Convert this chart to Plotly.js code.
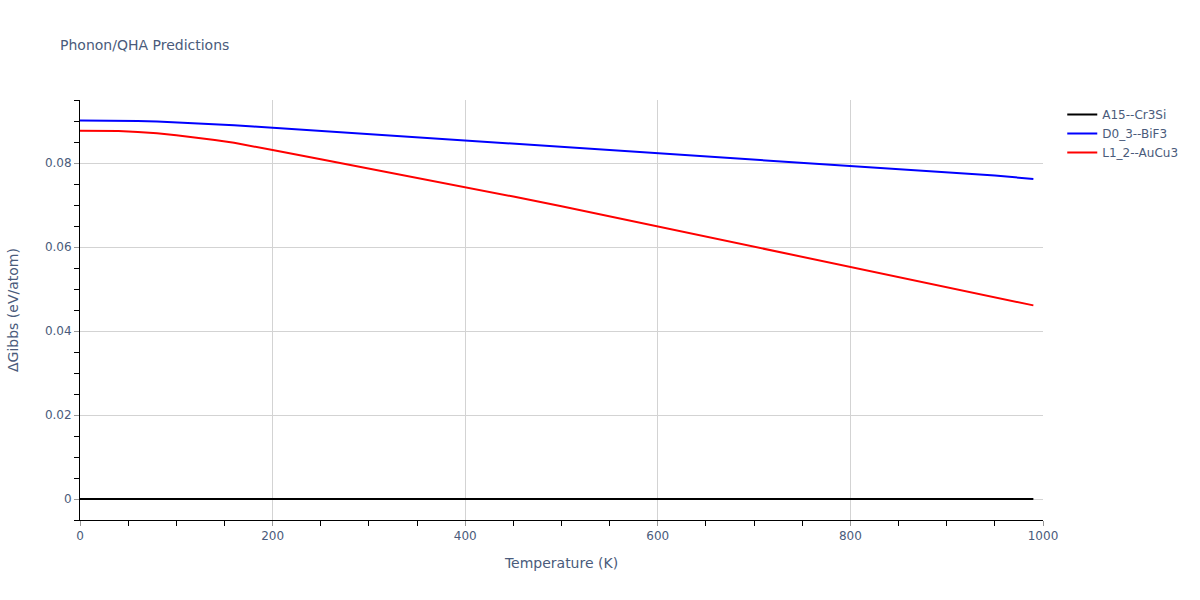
<!DOCTYPE html>
<html>
<head>
<meta charset="utf-8">
<script src="https://cdn.plot.ly/plotly-3.0.1.min.js"></script>
<style>html,body{margin:0;padding:0;background:#fff;}#chart{width:1200px;height:600px;}</style>
</head>
<body>
<div id="chart"></div>
<script>
const temps = [0, 20, 40, 60, 80, 100, 120, 140, 160, 180, 200, 250, 300, 350, 400, 450, 500, 550, 600, 650, 700, 750, 800, 850, 900, 950, 990];
const a15 = [0, 0, 0, 0, 0, 0, 0, 0, 0, 0, 0, 0, 0, 0, 0, 0, 0, 0, 0, 0, 0, 0, 0, 0, 0, 0, 0];
const d03 = [0.0901, 0.0901, 0.0901, 0.0900, 0.0899, 0.0897, 0.0895, 0.0893, 0.0890, 0.0887, 0.0884, 0.0876, 0.0868, 0.0861, 0.0854, 0.0846, 0.0838, 0.0831, 0.0824, 0.0816, 0.0808, 0.0801, 0.0794, 0.0786, 0.0778, 0.0770, 0.0762];
const l12 = [0.0877, 0.0877, 0.0876, 0.0874, 0.0871, 0.0866, 0.0861, 0.0855, 0.0848, 0.0840, 0.0831, 0.0809, 0.0787, 0.0765, 0.0742, 0.0720, 0.0697, 0.0673, 0.0649, 0.0626, 0.0601, 0.0577, 0.0554, 0.0530, 0.0505, 0.0481, 0.0461];
const names = ["A15--Cr3Si", "D0_3--BiF3", "L1_2--AuCu3"];
const colors = ["black", "blue", "red"];
const series = [a15, d03, l12];

const traces = series.map((s, i) => ({
  x: temps, y: s, type: "scatter", mode: "lines", name: names[i],
  line: {color: colors[i], width: 2}
}));

const layout = {
  width: 1200, height: 600,
  margin: {l: 80, r: 157, t: 100, b: 80},
  font: {family: "Verdana, 'DejaVu Sans', sans-serif", size: 12, color: "#4a5b7b"},
  title: {text: "Phonon/QHA Predictions", x: 0.05, font: {size: 14}},
  paper_bgcolor: "white", plot_bgcolor: "white",
  xaxis: {
    title: {text: "Temperature (K)", font: {size: 14}, standoff: 15},
    range: [0, 1000], dtick: 200,
    showline: true, linecolor: "black", linewidth: 1,
    ticks: "outside", ticklen: 5, tickcolor: "#999",
    gridcolor: "lightgrey", zeroline: false,
    minor: {dtick: 50, ticks: "outside", ticklen: 5, tickcolor: "black", showgrid: false}
  },
  yaxis: {
    title: {text: "ΔGibbs (eV/atom)", font: {size: 14}, standoff: 22},
    range: [-0.005, 0.095], dtick: 0.02,
    showline: true, linecolor: "black", linewidth: 1,
    ticks: "outside", ticklen: 5, tickcolor: "#999",
    gridcolor: "lightgrey", zeroline: true, zerolinecolor: "lightgrey", zerolinewidth: 1,
    minor: {dtick: 0.005, ticks: "outside", ticklen: 5, tickcolor: "black", showgrid: false}
  },
  legend: {x: 1.02, y: 1, xanchor: "left", yanchor: "top"},
  showlegend: true
};

Plotly.newPlot("chart", traces, layout, {displayModeBar: false});
</script>
</body>
</html>
